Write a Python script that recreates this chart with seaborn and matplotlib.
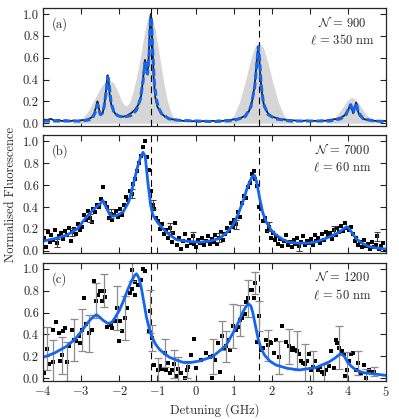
import numpy as np
import matplotlib
matplotlib.use("Agg")
import matplotlib.pyplot as plt
import seaborn as sns

# ---- panel (a): Doppler profile (grey), measured line (black), fit (blue dashed)
doppler_x = [-4.0, -3.3, -3.1, -2.95, -2.8, -2.65, -2.5, -2.4, -2.28, -2.15, -2.05, -1.95, -1.88,
             -1.8, -1.72, -1.65, -1.55, -1.45, -1.35, -1.27, -1.2, -1.13, -1.05, -0.95, -0.85,
             -0.75, -0.65, -0.55, -0.45, -0.3, 0.7, 0.85, 1.0, 1.15, 1.3, 1.42, 1.54, 1.66, 1.78,
             1.9, 2.02, 2.17, 2.32, 2.47, 2.62, 3.4, 3.55, 3.7, 3.85, 3.98, 4.1, 4.22, 4.35, 4.5,
             4.65, 4.8, 5.0]
doppler_y = [0.0, 0.0, 0.02, 0.05, 0.12, 0.22, 0.32, 0.37, 0.40, 0.37, 0.30, 0.21, 0.17,
             0.16, 0.20, 0.28, 0.42, 0.60, 0.81, 0.95, 1.0, 0.96, 0.84, 0.62, 0.40,
             0.22, 0.10, 0.04, 0.01, 0.0, 0.0, 0.02, 0.07, 0.19, 0.38, 0.55, 0.69, 0.74, 0.69,
             0.55, 0.38, 0.19, 0.07, 0.02, 0.0, 0.0, 0.02, 0.07, 0.14, 0.21, 0.24, 0.21, 0.14, 0.07,
             0.02, 0.0, 0.0]

meas_x = [-4.0, -3.9, -3.8, -3.7, -3.6, -3.5, -3.4, -3.3, -3.2, -3.1, -3.0, -2.9, -2.8, -2.72,
          -2.66, -2.61, -2.575, -2.55, -2.52, -2.48, -2.44, -2.4, -2.35, -2.31, -2.28, -2.25,
          -2.2, -2.15, -2.1, -2.0, -1.9, -1.8, -1.7, -1.6, -1.5, -1.43, -1.38, -1.33, -1.3,
          -1.27, -1.24, -1.21, -1.19, -1.175, -1.16, -1.13, -1.1, -1.06, -1.0, -0.9, -0.8,
          -0.7, -0.6, -0.5, -0.4, -0.3, -0.2, -0.1, 0.0, 0.1, 0.2, 0.3, 0.4, 0.5, 0.6, 0.7,
          0.8, 0.9, 1.0, 1.1, 1.2, 1.3, 1.4, 1.48, 1.55, 1.6, 1.635, 1.66, 1.7, 1.75, 1.8,
          1.9, 2.0, 2.1, 2.2, 2.3, 2.4, 2.5, 2.6, 2.7, 2.8, 2.9, 3.0, 3.1, 3.2, 3.3, 3.4, 3.5,
          3.6, 3.7, 3.8, 3.9, 4.0, 4.06, 4.1, 4.13, 4.17, 4.21, 4.25, 4.3, 4.4, 4.5, 4.6,
          4.7, 4.8, 4.9, 5.0]
meas_y = [0.035, 0.03, 0.04, 0.025, 0.03, 0.02, 0.028, 0.018, 0.025, 0.02, 0.028, 0.03, 0.04, 0.055,
          0.09, 0.15, 0.20, 0.17, 0.10, 0.075, 0.09, 0.15, 0.30, 0.44, 0.38, 0.24,
          0.15, 0.11, 0.085, 0.065, 0.06, 0.07, 0.09, 0.12, 0.17, 0.25, 0.40, 0.58, 0.55,
          0.47, 0.52, 0.78, 0.95, 1.0, 0.96, 0.70, 0.42, 0.24, 0.15, 0.09, 0.06,
          0.045, 0.035, 0.03, 0.025, 0.02, 0.025, 0.018, 0.02, 0.015, 0.02, 0.018, 0.022, 0.02, 0.025, 0.02,
          0.028, 0.03, 0.035, 0.04, 0.05, 0.07, 0.11, 0.20, 0.35, 0.55, 0.68, 0.64, 0.42, 0.25, 0.15,
          0.09, 0.06, 0.05, 0.04, 0.035, 0.03, 0.028, 0.025, 0.022, 0.02, 0.025, 0.02, 0.022, 0.02, 0.025, 0.022, 0.03,
          0.035, 0.04, 0.05, 0.07, 0.12, 0.17, 0.13, 0.09, 0.14, 0.19, 0.12, 0.07, 0.04, 0.03, 0.025,
          0.022, 0.02, 0.022, 0.02]

fit_a_x = [-4.0, -3.0, -2.8, -2.7, -2.62, -2.575, -2.54, -2.5, -2.45, -2.4, -2.35, -2.3, -2.27,
           -2.22, -2.15, -2.05, -1.9, -1.7, -1.55, -1.45, -1.38, -1.33, -1.3, -1.26, -1.22,
           -1.195, -1.17, -1.15, -1.12, -1.08, -1.03, -0.98, -0.9, -0.7, -0.4, 0.5, 1.0, 1.3,
           1.45, 1.55, 1.6, 1.645, 1.68, 1.72, 1.78, 1.9, 2.1, 2.5, 3.5, 3.8, 3.95, 4.03, 4.07,
           4.11, 4.14, 4.19, 4.22, 4.27, 4.4, 4.7, 5.0]
fit_a_y = [0.02, 0.02, 0.03, 0.05, 0.11, 0.17, 0.13, 0.08, 0.09, 0.15, 0.28, 0.42, 0.36,
           0.20, 0.11, 0.07, 0.055, 0.07, 0.12, 0.22, 0.38, 0.55, 0.52, 0.45, 0.62,
           0.88, 0.97, 0.90, 0.62, 0.36, 0.22, 0.15, 0.09, 0.04, 0.025, 0.015, 0.025, 0.06,
           0.15, 0.33, 0.52, 0.70, 0.58, 0.35, 0.18, 0.08, 0.04, 0.02, 0.02, 0.04, 0.08, 0.15, 0.17,
           0.11, 0.10, 0.17, 0.18, 0.10, 0.04, 0.02, 0.015]

# ---- panel (b): N = 7000, l = 60 nm
det_b = [-3.98, -3.93, -3.88, -3.83, -3.78, -3.73, -3.68, -3.63, -3.58, -3.53,
         -3.48, -3.43, -3.38, -3.33, -3.28, -3.23, -3.18, -3.13, -3.08, -3.03,
         -2.98, -2.93, -2.88, -2.83, -2.78, -2.73, -2.68, -2.63, -2.58, -2.53,
         -2.48, -2.43, -2.38, -2.33, -2.28, -2.23, -2.18, -2.13, -2.08, -2.03,
         -1.98, -1.93, -1.88, -1.83, -1.78, -1.73, -1.68, -1.63, -1.58, -1.53,
         -1.48, -1.43, -1.38, -1.33, -1.28, -1.23, -1.18, -1.13, -1.08, -1.03,
         -0.98, -0.93, -0.88, -0.83, -0.78, -0.73, -0.68, -0.63, -0.58, -0.53,
         -0.48, -0.43, -0.38, -0.33, -0.28, -0.23, -0.18, -0.13, -0.08, -0.03,
         0.02, 0.07, 0.12, 0.17, 0.22, 0.27, 0.32, 0.37, 0.42, 0.47,
         0.52, 0.57, 0.62, 0.67, 0.72, 0.77, 0.82, 0.87, 0.92, 0.97,
         1.02, 1.07, 1.12, 1.17, 1.22, 1.27, 1.32, 1.37, 1.42, 1.47,
         1.52, 1.57, 1.62, 1.67, 1.72, 1.77, 1.82, 1.87, 1.92, 1.97,
         2.02, 2.07, 2.12, 2.17, 2.22, 2.27, 2.32, 2.37, 2.42, 2.47,
         2.52, 2.57, 2.62, 2.67, 2.72, 2.77, 2.82, 2.87, 2.92, 2.97,
         3.02, 3.07, 3.12, 3.17, 3.22, 3.27, 3.32, 3.37, 3.42, 3.47,
         3.52, 3.57, 3.62, 3.67, 3.72, 3.77, 3.82, 3.87, 3.92, 3.97,
         4.02, 4.07, 4.12, 4.17, 4.22, 4.27, 4.32, 4.37, 4.42, 4.47,
         4.52, 4.57, 4.62, 4.67, 4.72, 4.77, 4.82, 4.87, 4.92, 4.97]
sig_b = [0.12, 0.03, 0.17, 0.08, 0.14, 0.10, 0.19, 0.07, 0.13, 0.16,
         0.11, 0.18, 0.14, 0.21, 0.09, 0.17, 0.20, 0.15, 0.24, 0.19,
         0.22, 0.33, 0.28, 0.36, 0.30, 0.26, 0.38, 0.35, 0.42, 0.40,
         0.47, 0.58, 0.44, 0.40, 0.30, 0.34, 0.28, 0.33, 0.36, 0.31,
         0.38, 0.33, 0.42, 0.49, 0.46, 0.55, 0.52, 0.61, 0.66, 0.73,
         0.80, 0.87, 0.95, 1.00, 0.86, 0.74, 0.55, 0.42, 0.38, 0.30,
         0.27, 0.20, 0.24, 0.15, 0.19, 0.12, 0.21, 0.08, 0.16, 0.25,
         0.05, 0.12, 0.02, 0.09, 0.15, 0.04, 0.10, 0.07, 0.13, 0.06,
         0.03, 0.10, 0.07, 0.12, 0.05, 0.09, 0.13, 0.06, 0.11, 0.08,
         0.14, 0.06, 0.12, 0.17, 0.10, 0.15, 0.21, 0.18, 0.25, 0.22,
         0.28, 0.24, 0.35, 0.31, 0.44, 0.50, 0.48, 0.58, 0.62, 0.70,
         0.73, 0.66, 0.59, 0.40, 0.38, 0.27, 0.30, 0.18, 0.22, 0.12,
         0.16, 0.10, 0.13, 0.06, 0.11, 0.04, 0.09, 0.14, 0.05, 0.08,
         0.03, 0.10, 0.06, 0.12, 0.04, 0.08, 0.13, 0.05, 0.09, 0.07,
         0.11, 0.05, 0.14, 0.09, 0.12, 0.07, 0.15, 0.10, 0.17, 0.13,
         0.16, 0.11, 0.19, 0.14, 0.21, 0.17, 0.23, 0.18, 0.25, 0.21,
         0.19, 0.22, 0.15, 0.09, 0.12, 0.05, 0.08, 0.03, 0.10, 0.04,
         0.06, 0.02, 0.08, 0.03, 0.05, 0.13, 0.02, 0.04, 0.07, 0.01]
err_b = [0, 0, 0, 0, 0, 0, 0, 0.04, 0, 0,
         0, 0, 0, 0, 0, 0.04, 0, 0, 0, 0,
         0, 0, 0, 0, 0.04, 0, 0, 0, 0, 0,
         0, 0, 0, 0, 0, 0.04, 0, 0, 0, 0,
         0, 0, 0, 0, 0, 0, 0.04, 0, 0, 0,
         0, 0, 0, 0, 0, 0, 0, 0.04, 0, 0,
         0, 0, 0, 0, 0, 0, 0.04, 0, 0, 0,
         0, 0, 0, 0, 0, 0, 0, 0, 0.04, 0,
         0, 0, 0, 0, 0, 0, 0, 0, 0, 0,
         0, 0, 0.04, 0, 0, 0, 0, 0, 0, 0,
         0, 0.04, 0, 0, 0, 0, 0, 0, 0, 0,
         0, 0, 0, 0, 0, 0, 0, 0, 0.04, 0,
         0, 0, 0, 0, 0, 0, 0, 0, 0, 0,
         0, 0, 0, 0, 0.04, 0, 0, 0, 0, 0,
         0, 0, 0, 0, 0, 0, 0, 0, 0, 0,
         0, 0, 0.04, 0, 0, 0, 0, 0, 0, 0,
         0, 0, 0, 0, 0, 0, 0, 0, 0, 0,
         0, 0, 0, 0, 0, 0.04, 0, 0, 0, 0]
fit_b_x = [-4.0, -3.7, -3.39, -3.1, -2.86, -2.7, -2.6, -2.5, -2.43, -2.35, -2.25, -2.17, -2.05,
           -1.9, -1.75, -1.64, -1.52, -1.44, -1.38, -1.32, -1.25, -1.18, -1.12, -1.0, -0.855,
           -0.7, -0.5, -0.2, 0.105, 0.4, 0.63, 0.8, 0.98, 1.1, 1.24, 1.34, 1.415, 1.49, 1.546,
           1.6, 1.68, 1.76, 1.85, 1.98, 2.11, 2.3, 2.46, 2.7, 2.99, 3.2, 3.42, 3.6, 3.77,
           3.88, 3.97, 4.05, 4.21, 4.38, 4.56, 4.8, 5.0]
fit_b_y = [0.088, 0.11, 0.14, 0.20, 0.31, 0.37, 0.40, 0.43, 0.46, 0.40, 0.33, 0.316, 0.325,
           0.355, 0.45, 0.60, 0.77, 0.86, 0.90, 0.86, 0.62, 0.42, 0.325, 0.26, 0.20,
           0.15, 0.10, 0.085, 0.077, 0.09, 0.113, 0.16, 0.234, 0.32, 0.447, 0.56, 0.63, 0.68, 0.69,
           0.63, 0.48, 0.35, 0.265, 0.19, 0.143, 0.10, 0.077, 0.068, 0.07, 0.085, 0.113, 0.14, 0.17,
           0.20, 0.22, 0.19, 0.11, 0.065, 0.037, 0.022, 0.015]

# ---- panel (c): N = 1200, l = 50 nm
det_c = [-3.97, -3.89, -3.84, -3.74, -3.74, -3.67, -3.59, -3.55, -3.5, -3.48, -3.43, -3.36, -3.32,
         -3.25, -3.19, -3.13, -3.06, -3.02, -2.97, -2.93, -2.87, -2.8, -2.73, -2.66, -2.6, -2.56,
         -2.51, -2.45, -2.4, -2.37, -2.32, -2.23, -2.19, -2.12, -2.06, -2.02, -1.97, -1.93, -1.86,
         -1.8, -1.73, -1.68, -1.67, -1.6, -1.58, -1.51, -1.42, -1.38, -1.32, -1.19, -1.23, -1.15,
         -1.08, -0.99, -0.94, -0.88, -0.81, -0.77, -0.72, -0.68, -0.62, -0.57, -0.51, -0.45, -0.38,
         -0.29, -0.23, -0.19, -0.12, -0.03, 0.01,
         0.15, 0.28, 0.37, 0.44, 0.46, 0.52, 0.585, 0.65, 0.68, 0.74, 0.79, 0.85, 0.91, 0.98, 1.05,
         1.11, 1.16, 1.23, 1.29, 1.33, 1.38, 1.42, 1.49, 1.53, 1.55, 1.62, 1.66, 1.72, 1.77, 1.84,
         1.9, 1.94, 1.99, 2.05, 2.12, 2.2, 2.27, 2.36, 2.45, 2.51, 2.55, 2.6, 2.66, 2.71, 2.77,
         2.83, 2.88, 2.92, 2.97, 3.03, 3.07, 3.14, 3.2, 3.25, 3.32, 3.38, 3.42, 3.49, 3.55, 3.62,
         3.68, 3.72, 3.77, 3.84, 3.88, 3.92, 3.98, 4.02, 4.07, 4.14, 4.2, 4.27, 4.35, 4.41, 4.48,
         4.54, 4.61, 4.67]
sig_c = [0.045, 0.27, 0.13, 0.15, 0.44, 0.51, 0.41, 0.16, 0.21, 0.43, 0.46, 0.15, 0.29,
         0.44, 0.35, 0.34, 0.39, 0.32, 0.44, 0.73, 0.50, 0.41, 0.44, 0.89, 0.71, 0.76,
         0.80, 0.71, 0.80, 0.74, 0.47, 0.49, 0.46, 0.52, 0.64, 0.34, 0.52, 0.43, 0.55,
         0.64, 0.78, 0.99, 0.82, 0.76, 0.88, 0.85, 0.90, 1.0, 0.98, 0.61, 0.43, 0.37,
         0.12, 0.07, 0.11, 0.08, 0.23, 0.07, 0.14, 0.05, 0.07, 0.13, 0.02, 0.08, 0.05,
         0.0, 0.07, 0.10, 0.21, 0.36, 0.09,
         0.17, 0.23, 0.19, 0.0, 0.20, 0.17, 0.32, 0.06, 0.39, 0.27, 0.29, 0.35, 0.26, 0.48, 0.44,
         0.47, 0.53, 0.55, 0.59, 0.70, 0.73, 0.81, 0.81, 0.73, 0.87, 0.33, 0.57, 0.26, 0.28, 0.35,
         0.30, 0.33, 0.32, 0.23, 0.35, 0.19, 0.48, 0.33, 0.29, 0.26, 0.28, 0.26, 0.25, 0.22, 0.16,
         0.14, 0.13, 0.16, 0.22, 0.07, 0.10, 0.16, 0.07, 0.10, 0.06, 0.04, 0.07, 0.11, 0.25, 0.09,
         0.35, 0.32, 0.28, 0.25, 0.22, 0.02, 0.07, 0.16, 0.22, 0.23, 0.07, 0.14, 0.05, 0.12, 0.0,
         0.07, 0.06, 0.06]
err_c = [0, 0.2, 0, 0.2, 0, 0, 0, 0, 0.17, 0, 0, 0.18, 0,
         0, 0.19, 0, 0, 0, 0.19, 0, 0, 0.17, 0, 0, 0.16, 0,
         0, 0, 0.15, 0, 0, 0, 0, 0, 0.2, 0, 0, 0, 0.2,
         0, 0, 0.1, 0, 0, 0, 0, 0, 0, 0, 0.2, 0, 0.12,
         0, 0.11, 0, 0, 0.13, 0, 0, 0, 0, 0.13, 0, 0.11, 0,
         0, 0.07, 0, 0, 0, 0,
         0, 0, 0, 0, 0.16, 0, 0, 0, 0.13, 0, 0.14, 0, 0, 0.2, 0,
         0, 0.14, 0, 0, 0, 0.17, 0, 0, 0, 0.1, 0, 0.14, 0, 0, 0,
         0.14, 0, 0, 0, 0, 0.15, 0, 0, 0.16, 0, 0, 0, 0.18, 0, 0,
         0, 0.18, 0, 0, 0, 0.15, 0, 0, 0, 0, 0.09, 0, 0, 0, 0,
         0, 0, 0.2, 0, 0, 0, 0.17, 0, 0, 0, 0, 0.11, 0, 0, 0.08,
         0, 0, 0.04]
fit_c_x = [-4.0, -3.7, -3.39, -3.15, -2.95, -2.8, -2.69, -2.6, -2.52, -2.43, -2.3, -2.2, -2.12,
           -2.0, -1.9, -1.78, -1.68, -1.6, -1.55, -1.49, -1.42, -1.35, -1.29, -1.22, -1.16,
           -1.05, -0.94, -0.8, -0.68, -0.5, -0.33, -0.1, 0.105, 0.45, 0.8, 1.07, 1.24, 1.33,
           1.39, 1.45, 1.5, 1.57, 1.64, 1.72, 1.81, 1.95, 2.11, 2.4, 2.72, 3.16, 3.51, 3.68,
           3.77, 3.83, 3.9, 3.98, 4.08, 4.2, 4.4, 4.64, 5.0]
fit_c_y = [0.19, 0.23, 0.29, 0.36, 0.45, 0.52, 0.56, 0.58, 0.56, 0.53, 0.50, 0.51, 0.55,
           0.62, 0.70, 0.81, 0.89, 0.94, 0.955, 0.92, 0.82, 0.68, 0.56, 0.46, 0.39,
           0.31, 0.26, 0.22, 0.19, 0.165, 0.145, 0.145, 0.157, 0.197, 0.30, 0.47, 0.605, 0.66,
           0.68, 0.66, 0.60, 0.48, 0.36, 0.27, 0.21, 0.155, 0.12, 0.09, 0.075, 0.097, 0.15, 0.19,
           0.215, 0.22, 0.2, 0.15, 0.11, 0.075, 0.05, 0.04, 0.025]

labels = ["(a)", "(b)", "(c)"]
n_atoms = ["900", "7000", "1200"]
thickness = ["350", "60", "50"]
resonances = [-1.18, 1.66]

blue = "#1466f0"

sns.set_style("ticks")
plt.rcParams["font.family"] = ["serif"]
plt.rcParams["font.serif"] = ["cmr10", "DejaVu Serif"]
plt.rcParams["mathtext.fontset"] = "cm"
plt.rcParams["axes.formatter.use_mathtext"] = True
plt.rcParams["font.size"] = 9
plt.rcParams["axes.linewidth"] = 0.9

fig, axes = plt.subplots(3, 1, figsize=(3.99, 4.19), dpi=100, sharex=True)
fig.subplots_adjust(left=0.108, right=0.968, top=0.981, bottom=0.091, hspace=0.08)

ax = axes[0]
ax.fill_between(doppler_x, doppler_y, 0, color="#d6d6d6", lw=0)
sns.lineplot(x=meas_x, y=meas_y, ax=ax, color="#222222", lw=1.3, sort=False)
sns.lineplot(x=fit_a_x, y=fit_a_y, ax=ax, color=blue, lw=2.2, sort=False,
             linestyle=(0, (2.3, 1.0)))

# panel b
ax = axes[1]
e_idx = [i for i, e in enumerate(err_b) if e > 0]
ax.errorbar([det_b[i] for i in e_idx], [sig_b[i] for i in e_idx],
            yerr=[err_b[i] for i in e_idx], fmt="none", ecolor="#444444",
            elinewidth=0.8, capsize=2.5, capthick=0.8)
sns.scatterplot(x=det_b, y=sig_b, ax=ax, color="k", marker="s", s=6, linewidth=0)
sns.lineplot(x=fit_b_x, y=fit_b_y, ax=ax, color=blue, lw=2.0, sort=False)

# panel c
ax = axes[2]
e_idx = [i for i, e in enumerate(err_c) if e > 0]
ax.errorbar([det_c[i] for i in e_idx], [sig_c[i] for i in e_idx],
            yerr=[err_c[i] for i in e_idx], fmt="none", ecolor="#8c8c8c",
            elinewidth=0.9, capsize=2.8, capthick=0.9)
sns.scatterplot(x=det_c, y=sig_c, ax=ax, color="k", marker="s", s=6, linewidth=0)
sns.lineplot(x=fit_c_x, y=fit_c_y, ax=ax, color=blue, lw=2.0, sort=False)

for i, ax in enumerate(axes):
    for r in resonances:
        ax.axvline(r, color="k", lw=0.8, linestyle=(0, (6, 4)), zorder=1)
    ax.set_xlim(-4, 5)
    ax.set_ylim(-0.025, 1.055)
    ax.set_yticks([0.0, 0.2, 0.4, 0.6, 0.8, 1.0])
    ax.set_yticklabels(["0.0", "0.2", "0.4", "0.6", "0.8", "1.0"])
    ax.set_xticks(range(-4, 6))
    ax.tick_params(direction="in", top=True, right=True, length=4, width=0.8, labelsize=9, pad=3)
    ax.text(0.025, 0.865, labels[i], transform=ax.transAxes, ha="left", va="center", fontsize=9)
    ax.text(0.872, 0.875, r"$\mathcal{N}\,=\,%s$" % n_atoms[i], transform=ax.transAxes,
            ha="center", va="center", fontsize=9)
    ax.text(0.872, 0.73, r"$\ell\,=\,%s$ nm" % thickness[i], transform=ax.transAxes,
            ha="center", va="center", fontsize=9)
    ax.set_ylabel("")

axes[1].set_ylabel("Normalised Fluorescence", fontsize=9, labelpad=4)
axes[2].set_xlabel("Detuning (GHz)", fontsize=9, labelpad=3)

fig.savefig("out.png", dpi=100)
